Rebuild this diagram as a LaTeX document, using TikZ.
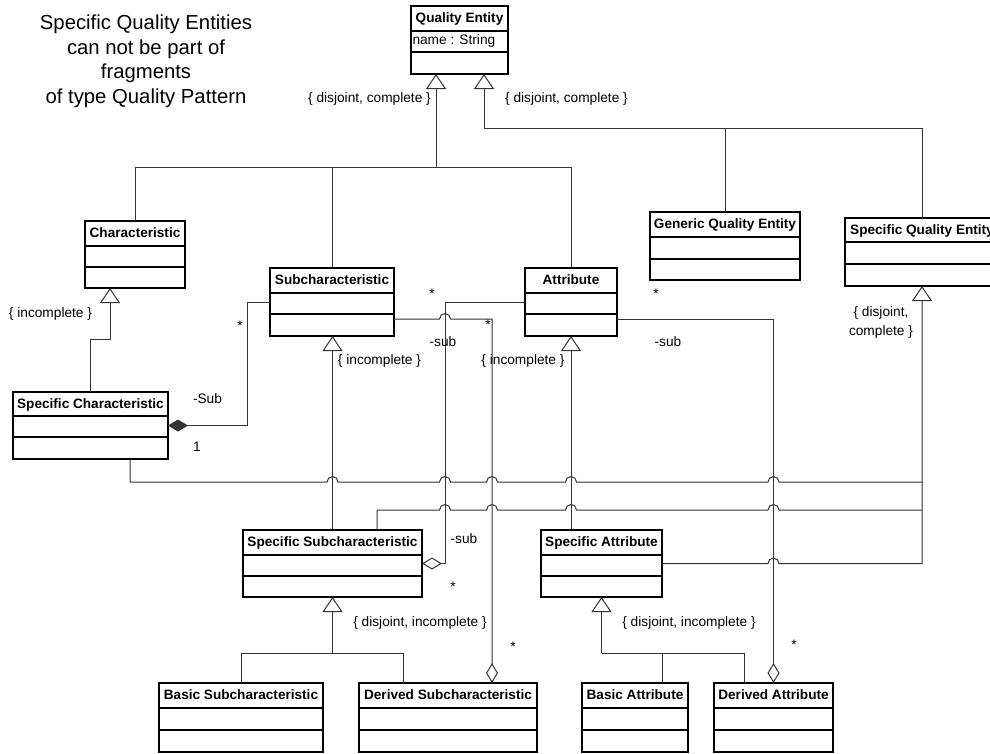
\documentclass[tikz,border=0pt]{standalone}
\usepackage{fontspec}
\setmainfont{Liberation Sans}
\usetikzlibrary{arrows.meta}

\tikzset{
  clsbox/.style={draw=black, line width=1.2pt, fill=white, inner sep=0pt, outer sep=0pt},
  clsline/.style={draw=black, line width=1.2pt},
  clstitle/.style={font=\fontsize{13.6}{16}\selectfont\bfseries, inner sep=0pt,
                   text height=0.72em, text depth=0.21em},
  lbl/.style={font=\fontsize{13.7}{16}\selectfont, inner sep=0pt,
              text height=0.72em, text depth=0.21em},
  notetext/.style={font=\fontsize{20.3}{24.7}\selectfont, inner sep=0pt, anchor=base},
  conn/.style={draw=black!80, line width=1pt},
  gen/.style={conn, -{Triangle[open, width=20pt, length=15pt]}},
  comp/.style={conn, {Diamond[width=12pt, length=20pt]}-},
  agg/.style={conn, {Diamond[open, width=12pt, length=20pt]}-},
}

% class box: name, left, top, right, bottom, header line, divider line, title
\newcommand\umlclass[8]{%
  \node[clsbox, minimum width={(#4)-(#2)}, minimum height={(#5)-(#3)}]
       (#1) at ({((#2)+(#4))/2},{((#3)+(#5))/2}) {};
  \draw[clsline] (#2,#6) -- (#4,#6) (#2,#7) -- (#4,#7);
  \node[clstitle] (#1-title) at ({((#2)+(#4))/2},{((#3)+(#6))/2+1.5}) {#8};
}
% line hop over a vertical connector at x=#1 on a horizontal line at y=#2
\newcommand\hop[2]{-- ({#1-5.5},#2) arc[start angle=180, end angle=360, radius=5.5]}

\begin{document}
\begin{tikzpicture}[x=1pt, y=-1pt]
\useasboundingbox (0,0) rectangle (990,753);
\clip (0,0) rectangle (990,753);

% note
\node[notetext] (note1) at (146,29.5) {Specific Quality Entities};
\node[notetext] (note2) at (146,54.2) {can not be part of};
\node[notetext] (note3) at (146,78.9) {fragments};
\node[notetext] (note4) at (146,103.6) {of type Quality Pattern};

% classes
\umlclass{qe}{411}{6}{508}{74}{31}{52}{Quality Entity}
\node[lbl, anchor=west] (qe-attr) at (412.3,42) {name : String};
\umlclass{char}{85}{221}{185}{288}{246}{267}{Characteristic}
\umlclass{sub}{270}{268}{394}{336}{293}{314}{Subcharacteristic}
\umlclass{attr}{525}{268}{617}{336}{293}{314}{Attribute}
\umlclass{gqe}{650}{212}{800}{280}{237}{259}{Generic Quality Entity}
\umlclass{sqe}{845}{218}{999}{286}{242}{264}{Specific Quality Entity}
\umlclass{spc}{13}{392}{168}{459}{416}{437}{Specific Characteristic}
\umlclass{sss}{243}{530}{422}{597}{555}{576}{Specific Subcharacteristic}
\umlclass{sattr}{541}{530}{662}{597}{555}{576}{Specific Attribute}
\umlclass{bsub}{159}{683}{323}{752}{708}{730}{Basic Subcharacteristic}
\umlclass{dsub}{359}{683}{537}{752}{708}{730}{Derived Subcharacteristic}
\umlclass{battr}{582}{683}{688}{752}{708}{730}{Basic Attribute}
\umlclass{dattr}{714}{683}{833}{752}{708}{730}{Derived Attribute}

% bend and junction points
\coordinate (busL) at (436,167);
\coordinate (busR) at (484,128);
\coordinate (kc) at (110,339);
\coordinate (k1) at (247,302);
\coordinate (k2) at (445,302);
\coordinate (k3) at (492,319);
\coordinate (k5) at (130,482);
\coordinate (k6) at (377,510);
\coordinate (bus3) at (403,653);
\coordinate (bus4) at (744,653);
\coordinate (ba) at (662,653);

% generalizations of Quality Entity
\draw[gen] (busL) -- (busL |- qe.south);
\draw[conn] (char.north) |- (attr.north |- busL) -- (attr.north);
\draw[conn] (sub.north) -- (sub.north |- busL);
\draw[gen] (busR) -- (busR |- qe.south);
\draw[conn] (busR) -| (sqe.north);
\draw[conn] (gqe.north) -- (gqe.north |- busR);

% specific classes
\draw[gen] (spc.north) |- (kc) -- (kc |- char.south);
\draw[gen] (sss.north) -- (sss.north |- sub.south);
\draw[gen] (sattr.north -| attr.south) -- (attr.south);

% subclasses of the specific classes
\draw[gen] (sss.south |- bus3) -- (sss.south);
\draw[conn] (bsub.north) |- (bus3) -- (bus3 |- dsub.north);
\draw[gen] (sattr.south |- bus4) -- (sattr.south);
\draw[conn] (sattr.south |- bus4) -- (bus4) -- (bus4 |- dattr.north);
\draw[conn] (ba) -- (ba |- battr.north);

% associations
\draw[comp] (spc.east) -| (k1) -- (sub.west);
\draw[agg] (sss.east) -| (k2) -- (attr.west);
\draw[agg] (k3 |- dsub.north) -- (k3) -- (450.5,319)
      arc[start angle=0, end angle=-180, radius=5.5] -- (sub.east |- k3);
\draw[agg] (dattr.north) |- (attr.east |- k3);

% generalization of Specific Quality Entity
\draw[conn] (spc.south -| k5) -- (k5) \hop{332.5}{482} \hop{445}{482} \hop{492}{482}
      \hop{571}{482} \hop{773.5}{482} -- (sqe.south |- k5);
\draw[conn] (sss.north -| k6) -- (k6) \hop{445}{510} \hop{492}{510} \hop{571}{510}
      \hop{773.5}{510} -- (sqe.south |- k6);
\draw[gen] (sattr.east) \hop{773.5}{563.5} -| (sqe.south);

% constraint labels
\node[lbl, anchor=east] (c1) at (431,100) {\{ disjoint, complete \}};
\node[lbl, anchor=west] (c2) at (505,100) {\{ disjoint, complete \}};
\node[lbl] (c3) at (50.5,315) {\{ incomplete \}};
\node[lbl] (c4) at (379.5,362) {\{ incomplete \}};
\node[lbl] (c5) at (523,362) {\{ incomplete \}};
\node[lbl] (c6a) at (881,314) {\{ disjoint,};
\node[lbl] (c6b) at (881,333) {complete \}};
\node[lbl] (c7) at (420,624) {\{ disjoint, incomplete \}};
\node[lbl] (c8) at (689,624) {\{ disjoint, incomplete \}};

% role names and multiplicities
\node[lbl] (r1) at (207.5,401) {-Sub};
\node[lbl] (m1) at (197,449) {1};
\node[lbl] (m2) at (240,327.5) {*};
\node[lbl] (m3) at (432,295.5) {*};
\node[lbl] (m4) at (488,326.5) {*};
\node[lbl] (r2) at (443,344) {-sub};
\node[lbl] (m5) at (656,295.5) {*};
\node[lbl] (r3) at (668,344) {-sub};
\node[lbl] (r4) at (464,541) {-sub};
\node[lbl] (m6) at (453,588.5) {*};
\node[lbl] (m7) at (513,648.5) {*};
\node[lbl] (m8) at (794,646.5) {*};
\end{tikzpicture}
\end{document}
